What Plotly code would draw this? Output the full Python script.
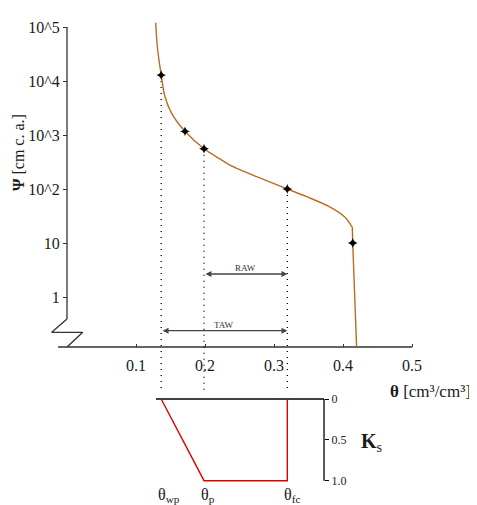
import numpy as np
import plotly.graph_objects as go

# ---- data ----
theta_curve = [0.1286, 0.1309, 0.1365, 0.1420, 0.1517, 0.1710, 0.1986, 0.2217, 0.2362,
               0.2749, 0.3193, 0.3474, 0.3787, 0.4029, 0.4135]
psi_curve = [120000, 43000, 12900, 5100, 2520, 1170, 557, 360, 278,
             169, 100, 72, 48, 30, 19.5]
theta_tail = [0.4135, 0.4141, 0.4197]
psi_tail = [19.5, 10, 0.12]
theta_pts = [0.1365, 0.1710, 0.1986, 0.3193, 0.4141]
psi_pts = [12900, 1170, 557, 100, 10]

theta_wp, theta_p, theta_fc = 0.1365, 0.1986, 0.3193
ks_theta = [theta_wp, theta_p, theta_fc, theta_fc]
ks_vals = [0, 1, 1, 0]

x_ticks = [0.1, 0.2, 0.3, 0.4, 0.5]
x_tick_text = ["0.1", "0.2", "0.3", "0.4", "0.5"]
y_tick_exp = [0, 1, 2, 3, 4, 5]
y_tick_text = ["1", "10", "10^2", "10^3", "10^4", "10^5"]
ks_ticks = [0, 0.5, 1.0]
ks_tick_text = ["0", "0.5", "1.0"]

OFF = 8  # default page body margin
W, H = 477 - OFF, 505 - OFF
FONT = "Liberation Serif, DejaVu Serif, serif"
CURVE = "#bf6b1f"
AX = "#333333"
TXT = "#1a1a1a"


def px(x):
    return (x - OFF) / W


def py(y):
    return 1 - (y - OFF) / H


L_curve = np.log10(psi_curve)
L_tail = np.log10(psi_tail)
L_pts = np.log10(psi_pts)

fig = go.Figure()

# y axis line and break symbol, x axis line
fig.add_trace(go.Scatter(x=[0, 0], y=[5, -0.407], mode="lines",
                         line=dict(color=AX, width=1.3), hoverinfo="skip"))
fig.add_trace(go.Scatter(x=[0, -0.0222, 0.0228, 0, -0.013, 0.5],
                         y=[-0.407, -0.654, -0.654, -0.926, -0.926, -0.926], mode="lines",
                         line=dict(color=AX, width=1.3), hoverinfo="skip"))

# dotted verticals
for t, L in zip([theta_wp, theta_p, theta_fc], [L_pts[0], L_pts[2], L_pts[3]]):
    fig.add_trace(go.Scatter(x=[t, t], y=[L, -3.519], mode="lines",
                             line=dict(color="black", width=1.3, dash="1px,5px"),
                             hoverinfo="skip"))

# retention curve
fig.add_trace(go.Scatter(x=theta_curve, y=L_curve, mode="lines",
                         line=dict(color=CURVE, width=1.4, shape="spline", smoothing=0.8),
                         hoverinfo="skip"))
fig.add_trace(go.Scatter(x=theta_tail, y=L_tail, mode="lines",
                         line=dict(color=CURVE, width=1.4), hoverinfo="skip"))
fig.add_trace(go.Scatter(x=theta_pts, y=L_pts, mode="markers",
                         marker=dict(symbol="star-diamond", size=7, color="black"),
                         hoverinfo="skip"))

# Ks panel
fig.add_trace(go.Scatter(x=[0.129, 0.3725], y=[0, 0], mode="lines", yaxis="y2",
                         line=dict(color="black", width=1.3), hoverinfo="skip"))
fig.add_trace(go.Scatter(x=[0.3725, 0.3725], y=[0, 1], mode="lines", yaxis="y2",
                         line=dict(color="black", width=1.3), hoverinfo="skip"))
fig.add_trace(go.Scatter(x=ks_theta, y=ks_vals, mode="lines", yaxis="y2",
                         line=dict(color="#e00000", width=1.4), hoverinfo="skip"))

ann = []
# RAW / TAW arrows
for (t0, t1, L, lbl, Llbl) in [(theta_p, theta_fc, 0.426, "RAW", 0.53),
                               (theta_wp, theta_fc, -0.624, "TAW", -0.52)]:
    ann.append(dict(x=t1, y=L, ax=t0, ay=L, xref="x", yref="y", axref="x", ayref="y",
                    text="", showarrow=True, arrowhead=2, arrowside="end+start",
                    arrowsize=0.9, arrowwidth=1.3, arrowcolor="#444"))
    ann.append(dict(x=(t0 + t1) / 2, y=Llbl, xref="x", yref="y", text=lbl, showarrow=False,
                    xanchor="center", yanchor="middle",
                    font=dict(family=FONT, size=9, color="#333")))

ann.append(dict(x=px(18), y=py(153), xref="paper", yref="paper",
                text="<b>Ψ</b> [cm c. a.]", textangle=-90, showarrow=False,
                xanchor="center", yanchor="middle",
                font=dict(family=FONT, size=16, color=TXT)))
ann.append(dict(x=px(430), y=py(391), xref="paper", yref="paper",
                text="<b>θ</b> [cm³/cm³]", showarrow=False,
                xanchor="center", yanchor="middle",
                font=dict(family=FONT, size=17, color=TXT)))
ann.append(dict(x=px(359), y=py(442), xref="paper", yref="paper",
                text="<b>K</b><sub>s</sub>", showarrow=False,
                xanchor="left", yanchor="middle",
                font=dict(family=FONT, size=20, color=TXT)))
for t, sub in [(theta_wp, "wp"), (theta_p, "p"), (theta_fc, "fc")]:
    ann.append(dict(x=t, y=py(495), xref="x", yref="paper",
                    text="θ<sub>%s</sub>" % sub, showarrow=False,
                    xanchor="left", yanchor="middle", xshift=-5,
                    font=dict(family=FONT, size=16, color=TXT)))

# axis calibration in reference pixels: theta=0 at x=67, 690 px per unit;
# log10(psi)=0 at y=297, 54 px per decade
PXT, PXL = 690.0, 54.0
th_min = -(67 - OFF) / PXT
th_max = th_min + W / PXT
L_top = (297 - OFF) / PXL
L_bot = L_top - H / PXL

ks_px = 81.7
k_lo, k_hi = -0.1, 1.1
dom_top = py(399 - 0.1 * ks_px)
dom_bot = py(480.7 + 0.1 * ks_px)

fig.update_layout(
    width=W, height=H, margin=dict(l=0, r=0, t=0, b=0),
    paper_bgcolor="white", plot_bgcolor="white", showlegend=False,
    font=dict(family=FONT, color=TXT),
    xaxis=dict(range=[th_min, th_max], domain=[0, 1], anchor="free", position=py(347),
               tickvals=x_ticks, ticktext=x_tick_text, ticklabelstandoff=7,
               ticks="inside", ticklen=3, tickcolor=AX, showgrid=False, zeroline=False,
               showline=False, tickfont=dict(family=FONT, size=16, color=TXT)),
    yaxis=dict(range=[L_bot, L_top], domain=[0, 1], anchor="free", position=px(67),
               tickvals=y_tick_exp, ticktext=y_tick_text, ticks="outside", ticklen=4,
               tickcolor=AX, showgrid=False, zeroline=False, showline=False,
               tickfont=dict(family=FONT, size=16, color=TXT)),
    yaxis2=dict(range=[k_hi, k_lo], domain=[dom_bot, dom_top], anchor="free",
                position=px(324), side="right", tickvals=ks_ticks, ticktext=ks_tick_text,
                ticks="outside", ticklen=4, tickcolor="black", showgrid=False,
                zeroline=False, showline=False,
                tickfont=dict(family=FONT, size=12, color=TXT)),
    annotations=ann,
)

fig.write_html("out.html")
